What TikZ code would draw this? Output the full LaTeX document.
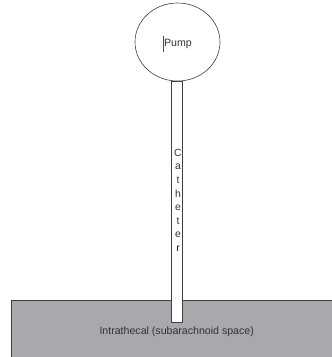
\documentclass[tikz,border=0pt]{standalone}
\usepackage{fontspec}
\setmainfont{Liberation Sans}
\usetikzlibrary{shapes.geometric}
\definecolor{groundgray}{HTML}{A9A9AD}
\definecolor{txt}{HTML}{333333}
\begin{document}
\begin{tikzpicture}[x=1pt,y=-1pt,
  outline/.style={draw=black!75, line width=0.6pt},
  lbl/.style={text=txt, font=\fontsize{10.6}{12}\selectfont, inner sep=0pt},
  letter/.style={text=txt, font=\fontsize{10.4}{12}\selectfont, inner sep=0pt}]
\useasboundingbox (0,0) rectangle (332,357);
% ground region
\node[outline, fill=groundgray, minimum width=322pt, minimum height=60pt, anchor=north west, inner sep=0pt] (ground) at (11,300) {};
% catheter
\node[outline, fill=white, minimum width=11pt, minimum height=241pt, anchor=north, inner sep=0pt] (cath) at (177,80.5) {};
% pump
\node[outline, fill=white, ellipse, minimum width=85pt, minimum height=78pt, inner sep=0pt] (pump) at (177.5,42) {};
\node[lbl] (pumptxt) at (178,44) {Pump};
\draw[black!70, line width=0.4pt] (163,36) -- (163,52);
\node[lbl] (groundtxt) at (176.7,331.5) {Intrathecal (subarachnoid space)};
% catheter letters
\foreach \l [count=\i from 0] in {C,a,t,h,e,t,e} {
  \node[letter] (c\i) at (178,153+13.6*\i) {\l};
}
\node[letter, text=blue!45!black] (c7) at (178,153+13.6*7) {r};
\end{tikzpicture}
\end{document}
